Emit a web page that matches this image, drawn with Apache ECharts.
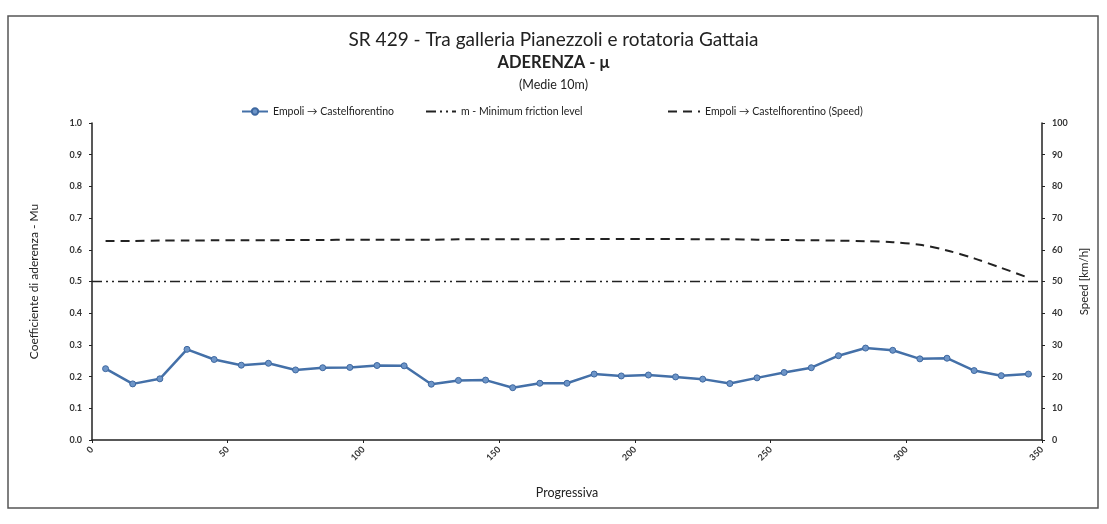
<!DOCTYPE html>
<html>
<head>
<meta charset="utf-8">
<script src="https://cdn.jsdelivr.net/npm/echarts@6/dist/echarts.min.js"></script>
<style>
  html, body { margin: 0; padding: 0; background: #fff; }
  #aderenza { width: 1107px; height: 524px; }
</style>
</head>
<body>
<div id="aderenza"></div>
<script>
// progressive (m) of each 10 m average
var progressiva = [5, 15, 25, 35, 45, 55, 65, 75, 85, 95, 105, 115, 125, 135, 145, 155, 165,
  175, 185, 195, 205, 215, 225, 235, 245, 255, 265, 275, 285, 295, 305, 315, 325, 335, 345];

var muValues = [0.225, 0.177, 0.193, 0.286, 0.254, 0.236, 0.242, 0.221, 0.228, 0.229, 0.235, 0.234,
  0.176, 0.188, 0.189, 0.165, 0.179, 0.179, 0.208, 0.202, 0.205, 0.199, 0.192, 0.178, 0.196,
  0.213, 0.228, 0.266, 0.290, 0.283, 0.256, 0.258, 0.219, 0.203, 0.208];

var speedValues = [62.8, 62.8, 62.9, 62.9, 63.0, 63.0, 63.0, 63.1, 63.1, 63.2, 63.2, 63.2, 63.2,
  63.3, 63.3, 63.3, 63.3, 63.4, 63.4, 63.4, 63.4, 63.4, 63.3, 63.3, 63.2, 63.1, 63.0, 62.9,
  62.7, 62.4, 61.6, 59.8, 57.3, 54.3, 51.2];

var frictionX = [0, 350];
var frictionLevel = [0.5, 0.5];

var nameMu = 'Empoli \u2192 Castelfiorentino';
var nameFriction = 'm - Minimum friction level';
var nameSpeed = 'Empoli \u2192 Castelfiorentino (Speed)';

function pairs(xs, ys) {
  return xs.map(function (x, i) { return [x, ys[i]]; });
}

var font = 'Lato';
var chart = echarts.init(document.getElementById('aderenza'));

var option = {
  backgroundColor: '#fff',
  animation: false,
  textStyle: { fontFamily: font },
  title: [
    { text: 'SR 429 - Tra galleria Pianezzoli e rotatoria Gattaia', left: 'center', top: 25,
      textStyle: { fontFamily: font, fontSize: 19, fontWeight: 'normal', color: '#222' } },
    { text: 'ADERENZA - \u03bc', left: 'center', top: 49,
      textStyle: { fontFamily: font, fontSize: 16.5, fontWeight: 'bold', color: '#222' } },
    { text: '(Medie 10m)', left: 'center', top: 73,
      textStyle: { fontFamily: font, fontSize: 12.5, fontWeight: 'normal', color: '#222' } }
  ],
  legend: [
    { data: [nameMu], left: 236, top: 101, itemWidth: 26, itemHeight: 8,
      textStyle: { fontSize: 10.5, color: '#222' } },
    { data: [{ name: nameFriction, itemStyle: { opacity: 0 } }], left: 420, top: 101,
      itemWidth: 30, itemHeight: 8, textStyle: { fontSize: 10.5, color: '#222' } },
    { data: [{ name: nameSpeed, itemStyle: { opacity: 0 } }], left: 662, top: 101,
      itemWidth: 32, itemHeight: 8, textStyle: { fontSize: 10.5, color: '#222' } }
  ],
  grid: { left: 92, right: 65, top: 123, bottom: 84 },
  xAxis: {
    type: 'value', min: 0, max: 350, interval: 50,
    name: 'Progressiva', nameLocation: 'middle', nameGap: 46,
    nameTextStyle: { fontSize: 12.5, color: '#222' },
    axisLine: { lineStyle: { color: '#222', width: 1.5 } },
    axisTick: { show: true, length: 3, lineStyle: { color: '#222' } },
    axisLabel: { rotate: 45, fontSize: 9, fontWeight: 'bold', color: '#333', margin: 8 },
    splitLine: { show: false }
  },
  yAxis: [
    { type: 'value', min: 0, max: 1, interval: 0.1,
      name: 'Coefficiente di aderenza - Mu', nameLocation: 'middle', nameGap: 52, nameRotate: 90,
      nameTextStyle: { fontSize: 12, color: '#222' },
      axisLine: { show: true, lineStyle: { color: '#222', width: 1.5 } },
      axisTick: { show: true, length: 3, lineStyle: { color: '#222' } },
      axisLabel: { fontSize: 9, fontWeight: 'bold', color: '#333', margin: 10,
        formatter: function (v) { return v.toFixed(1); } },
      splitLine: { show: false } },
    { type: 'value', min: 0, max: 100, interval: 10,
      name: 'Speed [km/h]', nameLocation: 'middle', nameGap: 34, nameRotate: 90,
      nameTextStyle: { fontSize: 11.5, color: '#222' },
      axisLine: { show: true, lineStyle: { color: '#222', width: 1.5 } },
      axisTick: { show: true, length: 3, lineStyle: { color: '#222' } },
      axisLabel: { fontSize: 9, fontWeight: 'bold', color: '#333', margin: 10 },
      splitLine: { show: false } }
  ],
  series: [
    { name: nameMu, type: 'line', yAxisIndex: 0, data: pairs(progressiva, muValues),
      symbol: 'circle', symbolSize: 6,
      lineStyle: { color: '#4470a8', width: 2.5 },
      itemStyle: { color: '#6d95c8', borderColor: '#3e68a0', borderWidth: 1 } },
    { name: nameFriction, type: 'line', yAxisIndex: 0, data: pairs(frictionX, frictionLevel),
      symbol: 'none',
      lineStyle: { color: '#222', width: 1.5, type: [10, 4, 2, 4, 2, 4] },
      itemStyle: { color: '#222' } },
    { name: nameSpeed, type: 'line', yAxisIndex: 1, data: pairs(progressiva, speedValues),
      symbol: 'none', smooth: 0.3,
      lineStyle: { color: '#222', width: 2, type: [9, 6] },
      itemStyle: { color: '#222' } }
  ],
  graphic: [
    { type: 'rect', shape: { x: 8, y: 16, width: 1090, height: 492 },
      style: { fill: 'none', stroke: '#555', lineWidth: 1.5 }, silent: true }
  ]
};

chart.setOption(option);
</script>
</body>
</html>
